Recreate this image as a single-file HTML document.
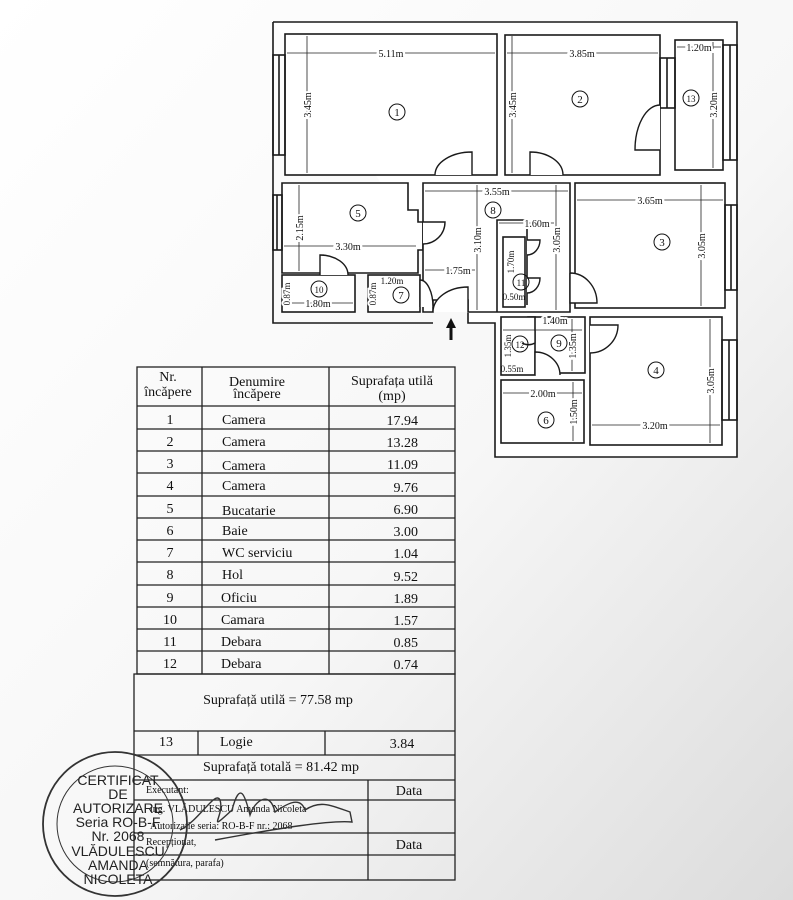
<!DOCTYPE html>
<html><head><meta charset="utf-8"><style>
html,body{margin:0;padding:0;width:793px;height:900px;overflow:hidden;background:#fff}
svg{display:block}
.t{font-family:"Liberation Serif",serif;fill:#111}
.s{font-family:"Liberation Sans",sans-serif;fill:#222}
</style></head><body>
<svg width="793" height="900" viewBox="0 0 793 900" xmlns="http://www.w3.org/2000/svg">
<defs>
<linearGradient id="bg" x1="0" y1="0" x2="1" y2="1">
<stop offset="0" stop-color="#ffffff"/><stop offset="0.55" stop-color="#f7f7f7"/><stop offset="1" stop-color="#dcdcdc"/>
</linearGradient>
</defs>
<rect width="793" height="900" fill="url(#bg)"/>
<g stroke="#1a1a1a" stroke-width="1.6" fill="none">
<!-- outer wall -->
<polyline points="273,22 737,22 737,457 495,457 495,323 468,323 468,313" fill="#fff"/>
<polyline points="273,22 273,323 433,323"/>
<!-- rooms -->
<rect x="285" y="34" width="212" height="141" fill="#fff"/>
<rect x="505" y="35" width="155" height="140" fill="#fff"/>
<rect x="675" y="40" width="48" height="130" fill="#fff"/>
<polygon points="282,183 408,183 408,210 418,210 418,222 423,222 423,250 418,250 418,273 282,273" fill="#fff"/>
<rect x="282" y="275" width="73" height="37" fill="#fff"/>
<rect x="368" y="275" width="52" height="37" fill="#fff"/>
<polygon points="423,183 570,183 570,312 468,312 468,300 433,300 433,312 423,312" fill="#fff"/>
<rect x="575" y="183" width="150" height="125" fill="#fff"/>
<rect x="590" y="317" width="132" height="128" fill="#fff"/>
<rect x="501" y="380" width="83" height="63" fill="#fff"/>
<rect x="528" y="317" width="57" height="56" fill="#fff"/>
<rect x="501" y="317" width="34" height="58" fill="#fff"/>
<polyline points="497,312 497,220 527,220 527,305"/>
<rect x="503" y="237" width="22" height="70"/>
<!-- windows -->
<rect x="273" y="55" width="12" height="100"/><line x1="279" y1="55" x2="279" y2="155"/>
<rect x="273" y="195" width="9" height="55"/><line x1="277" y1="195" x2="277" y2="250"/>
<rect x="723" y="45" width="14" height="115"/><line x1="730" y1="45" x2="730" y2="160"/>
<rect x="725" y="205" width="12" height="85"/><line x1="731" y1="205" x2="731" y2="290"/>
<rect x="722" y="340" width="15" height="80"/><line x1="729" y1="340" x2="729" y2="420"/>
<rect x="660" y="58" width="15" height="50"/><line x1="667" y1="58" x2="667" y2="108"/>
</g>
<!-- doors -->
<g stroke="#1a1a1a" stroke-width="1.4" fill="#fff">
<path d="M472,175 L472,152 A37,23 0 0 0 435,175"/>
<path d="M530,175 L530,152 A33,23 0 0 1 563,175"/>
<path d="M660,150 L635,150 A25,45 0 0 1 660,105"/>
<path d="M423,222 L445,222 A22,22 0 0 1 423,244"/>
<path d="M468,312 L468,287 A35,25 0 0 0 433,312"/>
<path d="M320,275 L320,255 A28,20 0 0 1 348,275"/>
<path d="M420,307 L420,280 A13,27 0 0 1 433,307"/>
<path d="M570,273 L570,303 L597,303 A27,30 0 0 0 570,273"/>
<path d="M590,325 L618,325 A28,28 0 0 1 590,353"/>
<path d="M535,375 L535,352 A25,23 0 0 1 560,375"/>
<path d="M527,240 L540,240 A13,15 0 0 1 527,255"/>
<path d="M527,278 L540,278 A13,15 0 0 1 527,293"/>
<path d="M535,330 L535,343 A13,13 0 0 1 522,343"/>
</g>
<!-- dimension lines -->
<g stroke="#222" stroke-width="0.8">
<line x1="287" y1="53" x2="495" y2="53"/><line x1="307" y1="36" x2="307" y2="173"/>
<line x1="507" y1="53" x2="658" y2="53"/><line x1="512" y1="36" x2="512" y2="173"/>
<line x1="677" y1="47" x2="721" y2="47"/><line x1="713" y1="42" x2="713" y2="168"/>
<line x1="425" y1="191" x2="568" y2="191"/><line x1="299" y1="185" x2="299" y2="271"/>
<line x1="284" y1="246" x2="416" y2="246"/><line x1="477" y1="185" x2="477" y2="310"/>
<line x1="577" y1="200" x2="723" y2="200"/><line x1="701" y1="185" x2="701" y2="306"/>
<line x1="499" y1="223" x2="554" y2="223"/><line x1="556" y1="185" x2="556" y2="310"/>
<line x1="425" y1="270" x2="475" y2="270"/><line x1="284" y1="303" x2="353" y2="303"/>
<line x1="503" y1="330" x2="582" y2="330"/><line x1="572" y1="319" x2="572" y2="371"/>
<line x1="503" y1="393" x2="582" y2="393"/><line x1="573" y1="382" x2="573" y2="441"/>
<line x1="592" y1="425" x2="720" y2="425"/><line x1="710" y1="319" x2="710" y2="443"/>
</g>
<g class="t" font-size="10">
<text x="391" y="57" text-anchor="middle" fill="#111" style="paint-order:stroke" stroke="#fff" stroke-width="5">5.11m</text>
<text x="582" y="57" text-anchor="middle" style="paint-order:stroke" stroke="#fff" stroke-width="5">3.85m</text>
<text x="699" y="51" text-anchor="middle" style="paint-order:stroke" stroke="#fff" stroke-width="4">1.20m</text>
<text x="497" y="195" text-anchor="middle" style="paint-order:stroke" stroke="#fff" stroke-width="5">3.55m</text>
<text x="650" y="204" text-anchor="middle" style="paint-order:stroke" stroke="#fff" stroke-width="5">3.65m</text>
<text x="348" y="250" text-anchor="middle" style="paint-order:stroke" stroke="#fff" stroke-width="5">3.30m</text>
<text x="537" y="227" text-anchor="middle" style="paint-order:stroke" stroke="#fff" stroke-width="4">1.60m</text>
<text x="458" y="274" text-anchor="middle" style="paint-order:stroke" stroke="#fff" stroke-width="4">1.75m</text>
<text x="318" y="307" text-anchor="middle" style="paint-order:stroke" stroke="#fff" stroke-width="4">1.80m</text>
<text x="392" y="284" text-anchor="middle" font-size="9">1.20m</text>
<text x="514" y="300" text-anchor="middle" font-size="9">0.50m</text>
<text x="555" y="324" text-anchor="middle" style="paint-order:stroke" stroke="#fff" stroke-width="4">1.40m</text>
<text x="512" y="372" text-anchor="middle" font-size="9">0.55m</text>
<text x="543" y="397" text-anchor="middle" style="paint-order:stroke" stroke="#fff" stroke-width="4">2.00m</text>
<text x="655" y="429" text-anchor="middle" style="paint-order:stroke" stroke="#fff" stroke-width="5">3.20m</text>
<g style="paint-order:stroke" stroke="#fff" stroke-width="4">
<text transform="translate(311,105) rotate(-90)" text-anchor="middle">3.45m</text>
<text transform="translate(516,105) rotate(-90)" text-anchor="middle">3.45m</text>
<text transform="translate(717,105) rotate(-90)" text-anchor="middle">3.20m</text>
<text transform="translate(303,228) rotate(-90)" text-anchor="middle">2.15m</text>
<text transform="translate(481,240) rotate(-90)" text-anchor="middle">3.10m</text>
<text transform="translate(560,240) rotate(-90)" text-anchor="middle">3.05m</text>
<text transform="translate(705,246) rotate(-90)" text-anchor="middle">3.05m</text>
<text transform="translate(514,262) rotate(-90)" text-anchor="middle" font-size="9">1.70m</text>
<text transform="translate(290,294) rotate(-90)" text-anchor="middle" font-size="9">0.87m</text>
<text transform="translate(376,294) rotate(-90)" text-anchor="middle" font-size="9">0.87m</text>
<text transform="translate(511,346) rotate(-90)" text-anchor="middle" font-size="9">1.35m</text>
<text transform="translate(576,346) rotate(-90)" text-anchor="middle">1.35m</text>
<text transform="translate(577,412) rotate(-90)" text-anchor="middle">1.50m</text>
<text transform="translate(714,381) rotate(-90)" text-anchor="middle">3.05m</text>
</g>
</g>
<!-- room numbers -->
<g stroke="#111" stroke-width="1" fill="none">
<circle cx="397" cy="112" r="8"/><circle cx="580" cy="99" r="8"/><circle cx="691" cy="98" r="8"/>
<circle cx="358" cy="213" r="8"/><circle cx="493" cy="210" r="8"/><circle cx="662" cy="242" r="8"/>
<circle cx="521" cy="282" r="8"/><circle cx="319" cy="289" r="8"/><circle cx="401" cy="295" r="8"/>
<circle cx="520" cy="344" r="8"/><circle cx="559" cy="343" r="8"/><circle cx="656" cy="370" r="8"/>
<circle cx="546" cy="420" r="8"/>
</g>
<g class="t" font-size="11" text-anchor="middle">
<text x="397" y="116">1</text><text x="580" y="103">2</text><text x="691" y="102" font-size="9">13</text>
<text x="358" y="217">5</text><text x="493" y="214">8</text><text x="662" y="246">3</text>
<text x="521" y="286" font-size="9">11</text><text x="319" y="293" font-size="9">10</text><text x="401" y="299">7</text>
<text x="520" y="348" font-size="9">12</text><text x="559" y="347">9</text><text x="656" y="374">4</text>
<text x="546" y="424">6</text>
</g>
<!-- entrance arrow -->
<polygon points="451,318 446,328 449.5,328 449.5,340 452.5,340 452.5,328 456,328" fill="#111"/>
<!-- table -->
<g stroke="#222" stroke-width="1.3" fill="none">
<rect x="137" y="367" width="318" height="307"/>
<line x1="202" y1="367" x2="202" y2="674"/><line x1="329" y1="367" x2="329" y2="674"/>
<line x1="137" y1="406" x2="455" y2="406"/>
<line x1="137" y1="429" x2="455" y2="429"/><line x1="137" y1="451" x2="455" y2="451"/>
<line x1="137" y1="473" x2="455" y2="473"/><line x1="137" y1="496" x2="455" y2="496"/>
<line x1="137" y1="518" x2="455" y2="518"/><line x1="137" y1="540" x2="455" y2="540"/>
<line x1="137" y1="562" x2="455" y2="562"/><line x1="137" y1="585" x2="455" y2="585"/>
<line x1="137" y1="607" x2="455" y2="607"/><line x1="137" y1="629" x2="455" y2="629"/>
<line x1="137" y1="651" x2="455" y2="651"/>
<rect x="134" y="674" width="321" height="206"/>
<line x1="134" y1="731" x2="455" y2="731"/><line x1="134" y1="755" x2="455" y2="755"/>
<line x1="198" y1="731" x2="198" y2="755"/><line x1="325" y1="731" x2="325" y2="755"/>
<line x1="134" y1="780" x2="455" y2="780"/><line x1="134" y1="800" x2="455" y2="800"/>
<line x1="134" y1="833" x2="455" y2="833"/><line x1="134" y1="855" x2="455" y2="855"/>
<line x1="368" y1="780" x2="368" y2="880"/>
</g>
<g class="t" font-size="14" text-anchor="middle">
<text x="168" y="381">Nr.</text><text x="168" y="396">încăpere</text>
<text x="257" y="386">Denumire</text><text x="257" y="398">încăpere</text>
<text x="392" y="385">Suprafața utilă</text><text x="392" y="400">(mp)</text>
</g>
<g class="t" font-size="14">
<g text-anchor="middle">
<text x="170" y="424">1</text><text x="170" y="446">2</text><text x="170" y="468">3</text><text x="170" y="490">4</text>
<text x="170" y="513">5</text><text x="170" y="535">6</text><text x="170" y="557">7</text><text x="170" y="579">8</text>
<text x="170" y="602">9</text><text x="170" y="624">10</text><text x="170" y="646">11</text><text x="170" y="668">12</text>
</g>
<text x="222" y="424">Camera</text><text x="222" y="446">Camera</text><text x="222" y="470">Camera</text><text x="222" y="490">Camera</text>
<text x="222" y="515">Bucatarie</text><text x="222" y="535">Baie</text><text x="222" y="557">WC serviciu</text><text x="222" y="579">Hol</text>
<text x="221" y="602">Oficiu</text><text x="221" y="624">Camara</text><text x="221" y="646">Debara</text><text x="221" y="668">Debara</text>
<g text-anchor="end">
<text x="418" y="425">17.94</text><text x="418" y="447">13.28</text><text x="418" y="469">11.09</text><text x="418" y="492">9.76</text>
<text x="418" y="514">6.90</text><text x="418" y="536">3.00</text><text x="418" y="558">1.04</text><text x="418" y="581">9.52</text>
<text x="418" y="603">1.89</text><text x="418" y="625">1.57</text><text x="418" y="647">0.85</text><text x="418" y="669">0.74</text>
</g>
<text x="278" y="704" text-anchor="middle">Suprafață utilă = 77.58 mp</text>
<text x="166" y="746" text-anchor="middle">13</text><text x="220" y="746">Logie</text><text x="402" y="748" text-anchor="middle">3.84</text>
<text x="281" y="771" text-anchor="middle">Suprafață totală = 81.42 mp</text>
<text x="409" y="795" text-anchor="middle">Data</text><text x="409" y="849" text-anchor="middle">Data</text>
</g>
<g class="t" font-size="10">
<text x="146" y="793">Executant:</text>
<text x="150" y="812">ing. VLĂDULESCU Amanda Nicoleta</text>
<text x="150" y="829">Autorizatie seria: RO-B-F nr.: 2068</text>
<text x="146" y="845">Recepționat,</text>
<text x="146" y="866">(semnătura, parafa)</text>
</g>
<!-- stamp -->
<g stroke="#333" fill="none">
<circle cx="115" cy="824" r="72" stroke-width="1.8"/>
<circle cx="115" cy="824" r="58" stroke-width="1"/>
</g>
<g class="s" font-size="14" text-anchor="middle" fill="#2a2a2a">
<text x="118" y="785">CERTIFICAT</text>
<text x="118" y="799">DE</text>
<text x="118" y="813">AUTORIZARE</text>
<text x="118" y="827">Seria RO-B-F</text>
<text x="118" y="841">Nr. 2068</text>
<text x="118" y="856">VLĂDULESCU</text>
<text x="118" y="870">AMANDA</text>
<text x="118" y="884">NICOLETA</text>
</g>
<path d="M180,830 C200,820 215,790 220,800 C225,815 205,835 232,810 C240,780 245,795 250,815 C255,800 270,790 275,812 C285,805 300,795 305,810 C320,800 330,805 350,812 L352,822 C330,820 280,828 215,840" stroke="#333" stroke-width="1.4" fill="none"/>
</svg>
</body></html>
